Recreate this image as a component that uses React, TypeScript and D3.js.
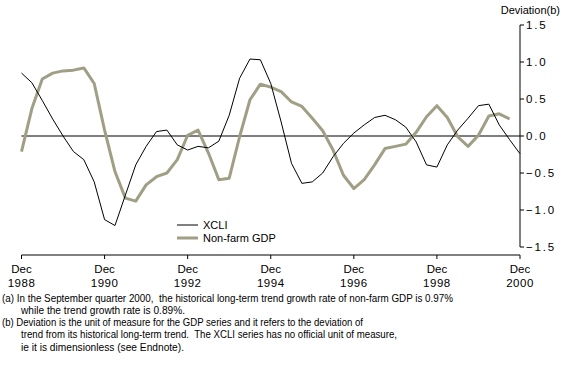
import React from "react"
import * as d3 from "d3"

// quarterly, Dec 1988 .. Dec 2000
const xcli = [
  0.85, 0.72, 0.48, 0.23, 0.0, -0.21, -0.32, -0.62, -1.13, -1.21,
  -0.8, -0.39, -0.14, 0.06, 0.08, -0.12, -0.19, -0.14, -0.16, -0.07,
  0.28, 0.78, 1.04, 1.03, 0.71, 0.19, -0.37, -0.64, -0.62, -0.5,
  -0.28, -0.1, 0.04, 0.15, 0.25, 0.28, 0.22, 0.12, -0.08, -0.39,
  -0.42, -0.12, 0.08, 0.24, 0.41, 0.43, 0.15, -0.05, -0.24,
]
const nonFarmGdp = [
  -0.21, 0.37, 0.77, 0.85, 0.88, 0.89, 0.92, 0.71, 0.08, -0.48,
  -0.84, -0.88, -0.66, -0.55, -0.5, -0.32, 0.01, 0.08, -0.23, -0.59,
  -0.57, -0.01, 0.49, 0.7, 0.66, 0.6, 0.46, 0.4, 0.24, 0.07,
  -0.19, -0.53, -0.71, -0.59, -0.39, -0.17, -0.14, -0.11, 0.05, 0.26,
  0.41, 0.25, -0.01, -0.14, 0.01, 0.27, 0.3, 0.23,
]
const yearLabels = ["1988", "1990", "1992", "1994", "1996", "1998", "2000"]
const yTicks = [1.5, 1.0, 0.5, 0.0, -0.5, -1.0, -1.5]
const footnotes = [
  "(a) In the September quarter 2000,  the historical long-term trend growth rate of non-farm GDP is 0.97%",
  "while the trend growth rate is 0.89%.",
  "(b) Deviation is the unit of measure for the GDP series and it refers to the deviation of",
  "trend from its historical long-term trend.  The XCLI series has no official unit of measure,",
  "ie it is dimensionless (see Endnote).",
]
// start / end x of each footnote line in the reference
const noteStart = [2, 21, 2, 21, 21]
const noteEnd = [453, 185, 363, 397, 184]

const W = 567
const H = 378
const FONT = "'Liberation Sans', Arial, sans-serif"
const GDP_COLOR = "#a09f86"

export default function App() {
  const x = d3.scaleLinear().domain([0, 48]).range([21.5, 520])
  const y = d3.scaleLinear().domain([-1.5, 1.5]).range([247, 25])

  const line = d3
    .line<number>()
    .x((d, i) => x(i))
    .y((d) => y(d))

  const fmt = (v: number) => (v < 0 ? "\u2212" : "") + Math.abs(v).toFixed(1)

  return (
    <svg
      width={W}
      height={H}
      style={{ position: "absolute", left: 0, top: 0, background: "#fff" }}
      fontFamily={FONT}
    >
      {/* zero line */}
      <line x1={x(0)} x2={x(48)} y1={y(0)} y2={y(0)} stroke="#000" strokeWidth={1.2} />

      <path d={line(nonFarmGdp) || ""} fill="none" stroke={GDP_COLOR} strokeWidth={3} strokeLinejoin="round" />
      <path d={line(xcli) || ""} fill="none" stroke="#000" strokeWidth={1} />

      {/* y axis on right */}
      <line x1={520} x2={520} y1={y(1.5)} y2={y(-1.5)} stroke="#000" strokeWidth={1} />
      {yTicks.map((t) => (
        <g key={t}>
          <line x1={520} x2={524} y1={y(t)} y2={y(t)} stroke="#000" />
          <text x={526} y={y(t)} dy="0.35em" fontSize={11.5} letterSpacing={1.8}>
            {fmt(t)}
          </text>
        </g>
      ))}
      <text x={560} y={14} fontSize={11} textAnchor="end">
        Deviation(b)
      </text>

      {/* x axis */}
      <line x1={x(0)} x2={x(48)} y1={255} y2={255} stroke="#000" strokeWidth={1} />
      {yearLabels.map((lab, i) => (
        <g key={lab}>
          <line x1={x(i * 8)} x2={x(i * 8)} y1={255} y2={259} stroke="#000" />
          <text x={x(i * 8)} y={269} dy="0.35em" fontSize={11.5} textAnchor="middle">
            Dec
          </text>
          <text x={x(i * 8)} y={283} dy="0.35em" fontSize={11.5} textAnchor="middle" letterSpacing={0.5}>
            {lab}
          </text>
        </g>
      ))}

      {/* legend */}
      <line x1={177} x2={198} y1={225} y2={225} stroke="#000" />
      <text x={203} y={225} dy="0.35em" fontSize={11}>XCLI</text>
      <line x1={177} x2={198} y1={238} y2={238} stroke={GDP_COLOR} strokeWidth={3} />
      <text x={203} y={238} dy="0.35em" fontSize={11}>Non-farm GDP</text>

      {/* footnotes */}
      {footnotes.map((f, i) => (
        <text
          key={i}
          x={noteStart[i]}
          y={298 + i * 12.3}
          dy="0.35em"
          fontSize={10}
          textLength={noteEnd[i] - noteStart[i]}
          lengthAdjust="spacingAndGlyphs"
          style={{ whiteSpace: "pre" }}
        >
          {f}
        </text>
      ))}
    </svg>
  )
}
